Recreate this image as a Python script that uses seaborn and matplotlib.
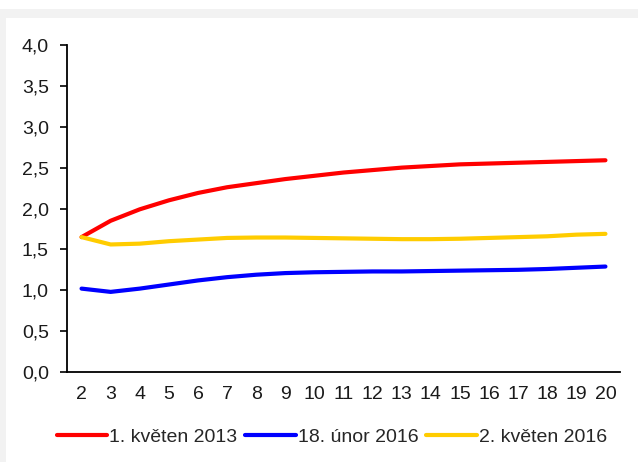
import matplotlib
matplotlib.use("Agg")
import matplotlib.pyplot as plt
from matplotlib.patches import Rectangle
import seaborn as sns
import pandas as pd

# Maturities (years) and yield curves for three dates
maturities = list(range(2, 21))
kveten_2013 = [1.65, 1.85, 1.99, 2.10, 2.19, 2.26, 2.31, 2.36, 2.40, 2.44,
               2.47, 2.50, 2.52, 2.54, 2.55, 2.56, 2.57, 2.58, 2.59]
unor_2016 = [1.02, 0.98, 1.02, 1.07, 1.12, 1.16, 1.19, 1.21, 1.22, 1.225,
             1.23, 1.23, 1.235, 1.24, 1.245, 1.25, 1.26, 1.275, 1.29]
kveten_2016 = [1.65, 1.56, 1.57, 1.60, 1.62, 1.64, 1.645, 1.645, 1.64, 1.635,
               1.63, 1.625, 1.625, 1.63, 1.64, 1.65, 1.66, 1.68, 1.69]
series_names = ["1. květen 2013", "18. únor 2016", "2. květen 2016"]
colors = ["#ff0000", "#0000ff", "#ffcc00"]
y_ticks = [0.0, 0.5, 1.0, 1.5, 2.0, 2.5, 3.0, 3.5, 4.0]

df = pd.concat([
    pd.DataFrame({"splatnost": maturities, "výnos": vals, "datum": name})
    for name, vals in zip(series_names, [kveten_2013, unor_2016, kveten_2016])
])

sns.set_style("white")
plt.rcParams["font.family"] = ["Liberation Sans", "DejaVu Sans"]
FS = 14

fig = plt.figure(figsize=(6.38, 4.62), dpi=100)
fig.patch.set_facecolor("white")
# light grey frame strips
fig.patches.append(Rectangle((0, 1 - 18 / 462), 1, 9 / 462, transform=fig.transFigure,
                             facecolor="#f2f2f2", edgecolor="none", zorder=0))
fig.patches.append(Rectangle((0, 0), 6 / 638, 1 - 9 / 462, transform=fig.transFigure,
                             facecolor="#f2f2f2", edgecolor="none", zorder=0))

ax = fig.add_axes([67 / 638, 1 - 372 / 462, (620 - 67) / 638, (372 - 45) / 462])
sns.lineplot(data=df, x="splatnost", y="výnos", hue="datum", palette=colors,
             hue_order=series_names, linewidth=3, ax=ax, legend=True)

ax.set_xlim(1.5, 20.5)
ax.set_ylim(0, 4.0)
ax.set_xticks(maturities)
ax.set_xticklabels([str(m) for m in maturities])
ax.set_yticks(y_ticks)
ax.set_yticklabels([f"{t:.1f}".replace(".", ",") for t in y_ticks])
ax.set_xlabel("")
ax.set_ylabel("")
ax.tick_params(axis="x", length=0, pad=10, labelsize=FS, labelcolor="#1a1a1a")
ax.tick_params(axis="y", length=5, width=1.2, direction="out", pad=8,
               labelsize=FS, labelcolor="#1a1a1a", color="black", left=True)
for side in ["top", "right"]:
    ax.spines[side].set_visible(False)
for side in ["left", "bottom"]:
    ax.spines[side].set_color("black")
    ax.spines[side].set_linewidth(1.3)

handles, labels = ax.get_legend_handles_labels()
ax.legend_.remove()
fig.legend(handles, labels, loc="center", bbox_to_anchor=(0.52, 1 - 437 / 462),
           ncol=3, frameon=False, fontsize=FS, handlelength=2.6,
           handletextpad=0.1, columnspacing=0.4)

fig.savefig("out.png", dpi=100, facecolor="white")
